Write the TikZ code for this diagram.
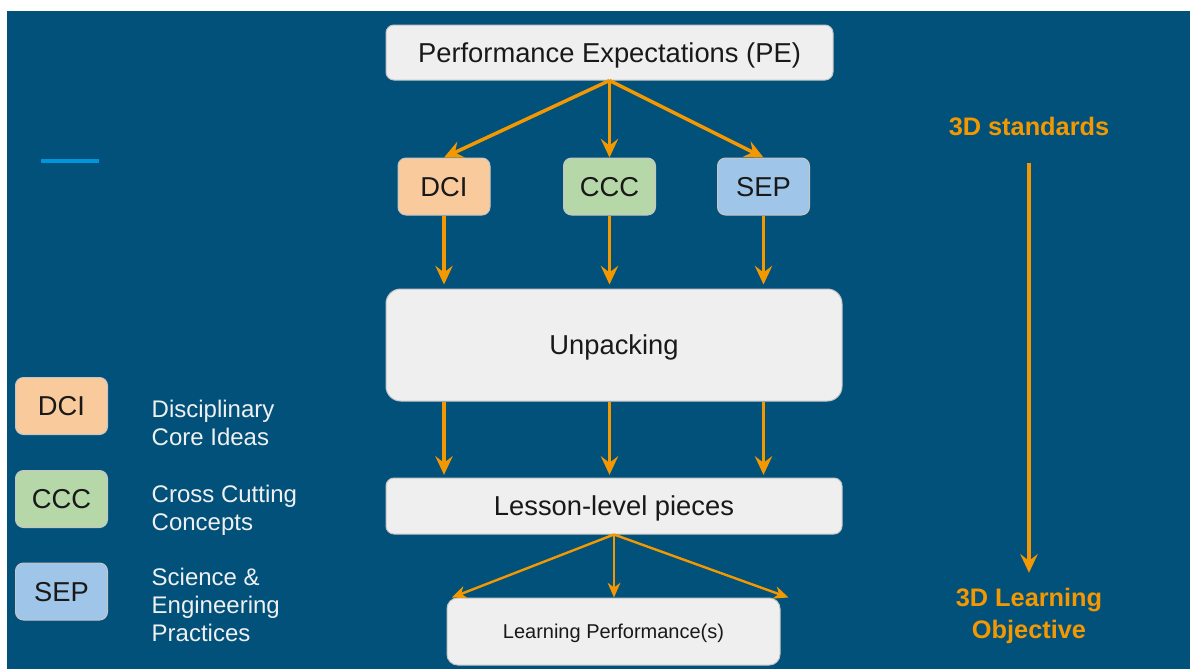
\documentclass[tikz,border=0pt]{standalone}
\usepackage{fontspec}
\setmainfont{Liberation Sans}
\usetikzlibrary{arrows.meta}
\definecolor{bgblue}{RGB}{1,81,123}
\definecolor{arroworange}{RGB}{243,152,0}
\definecolor{boxgray}{RGB}{239,239,239}
\definecolor{dcicolor}{RGB}{249,203,156}
\definecolor{ccccolor}{RGB}{182,215,168}
\definecolor{sepcolor}{RGB}{159,197,232}
\definecolor{lineblue}{RGB}{0,150,220}
\begin{document}
\begin{tikzpicture}[x=0.75pt,y=-0.75pt,
   box/.style={draw=gray!45,line width=0.75pt,fill=boxgray,rounded corners=6pt,
     text=black!90,inner sep=0pt,text height=17.6pt,text depth=2.9pt,
     font=\fontsize{20.5}{24}\selectfont},
   tag/.style={box,minimum width=69pt,minimum height=42.75pt},
   legtext/.style={anchor=west,align=left,text=white!94!black,
     font=\fontsize{18}{21}\selectfont},
   stdtext/.style={align=center,text=arroworange,
     font=\fontsize{19}{24}\selectfont\bfseries},
   flow/.style={draw=arroworange,line width=2.6pt,
     -{Stealth[length=14pt,width=13pt,inset=5pt]}},
   thinflow/.style={draw=arroworange,line width=1.8pt,
     -{Stealth[length=11pt,width=9.5pt,inset=3.5pt]}}]
   \fill[white] (0,0) rectangle (1190,669);
   \fill[bgblue] (7,11) rectangle (1190,669);
   \draw[lineblue,line width=3pt] (41,161) -- (99,161);

   \node[box,minimum width=335.25pt,minimum height=41.25pt] (pe) at (609.5,52.5) {Performance Expectations (PE)};
   \node[tag,fill=dcicolor] (dci) at (444,186.5) {DCI};
   \node[tag,fill=ccccolor] (ccc) at (609.5,186.5) {CCC};
   \node[tag,fill=sepcolor] (sep) at (763.5,186.5) {SEP};
   \node[box,rounded corners=11pt,minimum width=342pt,minimum height=84pt] (unp) at (614,345) {Unpacking};
   \node[box,minimum width=342pt,minimum height=42pt] (les) at (614,506) {Lesson-level pieces};
   \node[box,rounded corners=8pt,minimum width=249.75pt,minimum height=50.25pt,
     text height=12.9pt,text depth=2.1pt,
     font=\fontsize{15}{18}\selectfont] (lp) at (613.5,631.5) {Learning Performance(s)};

   \node[tag,fill=dcicolor] (ldci) at (61.5,406) {DCI};
   \node[tag,fill=ccccolor] (lccc) at (61.5,499) {CCC};
   \node[tag,fill=sepcolor] (lsep) at (61.5,591.5) {SEP};
   \node[legtext] (tdci) at (147,423) {Disciplinary\\Core Ideas};
   \node[legtext] (tccc) at (147,510) {Cross Cutting\\Concepts};
   \node[legtext] (tsep) at (147,605) {Science \&\\Engineering\\Practices};

   \node[stdtext] (std) at (1029,126) {3D standards};
   \node[stdtext] (obj) at (1029,616) {3D Learning\\Objective};

   \draw[flow] (pe.south) -- (dci.north);
   \draw[flow] (pe.south) -- (ccc.north);
   \draw[flow] (pe.south) -- (sep.north);
   \draw[flow,shorten >=3pt] (dci.south) -- (dci.south |- unp.north);
   \draw[flow,shorten >=3pt] (ccc.south) -- (ccc.south |- unp.north);
   \draw[flow,shorten >=3pt] (sep.south) -- (sep.south |- unp.north);
   \draw[flow,shorten >=2pt] (unp.south -| dci) -- (les.north -| dci);
   \draw[flow,shorten >=2pt] (unp.south -| ccc) -- (les.north -| ccc);
   \draw[flow,shorten >=2pt] (unp.south -| sep) -- (les.north -| sep);
   \draw[thinflow] (les.south) -- ([xshift=4pt]lp.north west);
   \draw[thinflow] (les.south) -- (les.south |- lp.north);
   \draw[thinflow] (les.south) -- ([xshift=6pt]lp.north east);
   \draw[flow,shorten <=17pt,shorten >=8pt] (std.south) -- (obj.north);
\end{tikzpicture}
\end{document}
